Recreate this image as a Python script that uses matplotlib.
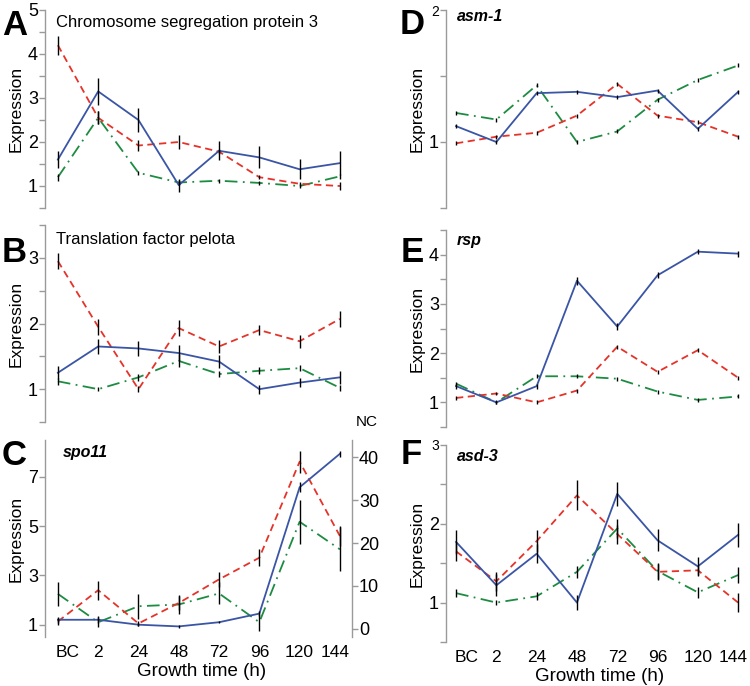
import matplotlib
matplotlib.use("Agg")
import matplotlib.pyplot as plt
from matplotlib.ticker import MultipleLocator
import numpy as np

plt.rcParams['font.family'] = ['Liberation Sans', 'DejaVu Sans']

time_labels = ["BC", "2", "24", "48", "72", "96", "120", "144"]

# Panel A: Chromosome segregation protein 3
a_blue = [1.6, 3.15, 2.5, 1.02, 1.8, 1.65, 1.38, 1.52]
a_red = [4.2, 2.55, 1.92, 2.0, 1.78, 1.2, 1.05, 1.0]
a_green = [1.2, 2.55, 1.3, 1.08, 1.12, 1.07, 1.0, 1.22]
a_blue_err = [0.2, 0.3, 0.28, 0.15, 0.22, 0.25, 0.23, 0.27]
a_red_err = [0.22, 0.15, 0.13, 0.15, 0.05, 0.05, 0.05, 0.1]
a_green_err = [0.08, 0.15, 0.05, 0.05, 0.05, 0.05, 0.05, 0.05]

# Panel B: Translation factor pelota
b_blue = [1.25, 1.65, 1.62, 1.55, 1.42, 1.0, 1.1, 1.18]
b_red = [2.95, 1.95, 1.0, 1.93, 1.65, 1.9, 1.73, 2.07]
b_green = [1.12, 1.0, 1.18, 1.43, 1.23, 1.28, 1.32, 1.02]
b_blue_err = [0.1, 0.12, 0.11, 0.12, 0.1, 0.07, 0.07, 0.1]
b_red_err = [0.12, 0.12, 0.05, 0.12, 0.1, 0.07, 0.1, 0.12]
b_green_err = [0.05, 0.03, 0.05, 0.1, 0.05, 0.05, 0.05, 0.05]

# Panel C: spo11
c_blue = [1.2, 1.2, 1.0, 0.93, 1.1, 1.45, 6.58, 7.94]
c_red = [1.13, 2.4, 1.05, 1.88, 2.84, 3.72, 7.62, 4.6]
c_green = [2.25, 1.1, 1.75, 1.82, 2.27, 1.1, 5.18, 4.06]
c_blue_err = [0.12, 0.15, 0.05, 0.05, 0.05, 0.1, 0.2, 0.12]
c_red_err = [0.15, 0.38, 0.1, 0.3, 0.3, 0.35, 0.45, 0.4]
c_green_err = [0.5, 0.2, 0.5, 0.4, 0.45, 0.35, 0.9, 0.9]
c_nc_ticks = [0, 10, 20, 30, 40]

# Panel D: asm-1
d_blue = [1.12, 1.0, 1.37, 1.38, 1.34, 1.39, 1.10, 1.38]
d_red = [0.99, 1.04, 1.07, 1.20, 1.44, 1.20, 1.15, 1.04]
d_green = [1.22, 1.17, 1.43, 1.0, 1.08, 1.32, 1.47, 1.58]
d_blue_err = [0.015] * 8
d_red_err = [0.015] * 8
d_green_err = [0.015] * 8

# Panel E: rsp
e_blue = [1.33, 1.0, 1.33, 3.47, 2.54, 3.58, 4.06, 4.02]
e_red = [1.09, 1.18, 1.0, 1.24, 2.13, 1.62, 2.06, 1.5]
e_green = [1.38, 1.0, 1.53, 1.53, 1.48, 1.22, 1.05, 1.12]
e_blue_err = [0.05, 0.03, 0.05, 0.08, 0.07, 0.06, 0.05, 0.06]
e_red_err = [0.04] * 8
e_green_err = [0.04] * 8

# Panel F: asd-3
f_blue = [1.77, 1.22, 1.62, 1.0, 2.38, 1.79, 1.46, 1.86]
f_red = [1.65, 1.27, 1.78, 2.36, 1.87, 1.39, 1.41, 1.0]
f_green = [1.12, 1.0, 1.08, 1.39, 1.94, 1.40, 1.13, 1.35]
f_blue_err = [0.15, 0.14, 0.12, 0.1, 0.15, 0.14, 0.12, 0.15]
f_red_err = [0.12, 0.12, 0.14, 0.19, 0.12, 0.1, 0.06, 0.12]
f_green_err = [0.05, 0.03, 0.05, 0.08, 0.12, 0.1, 0.07, 0.1]

BLUE = "#3a55a5"
RED = "#e5332a"
GREEN = "#1d8c42"
SPINE = "#9a9a9a"

W, H = 750, 686
fig = plt.figure(figsize=(W / 100, H / 100), dpi=100)

# label positions along the category axis (labels are spread slightly inward)
LABEL_POS = [0.25, 1, 2, 3, 4, 5, 6, 6.88]


def make_ax(l, t, r, b):
    return fig.add_axes([l / W, 1 - b / H, (r - l) / W, (b - t) / H])


def style(ax, ylim, major, minor, xlim, show_x):
    ax.set_ylim(*ylim)
    ax.set_xlim(*xlim)
    for s in ["top", "right", "bottom"]:
        ax.spines[s].set_visible(False)
    ax.spines["left"].set_color(SPINE)
    ax.spines["left"].set_linewidth(1.0)
    ax.set_yticks(major)
    if minor:
        ax.yaxis.set_minor_locator(MultipleLocator(minor))
    ax.tick_params(axis="y", which="both", direction="out", length=4,
                   color=SPINE, width=1.0, labelsize=13, pad=1)
    ax.set_xticks(LABEL_POS)
    if show_x:
        ax.set_xticklabels(time_labels, fontsize=12.5)
        ax.tick_params(axis="x", length=0, pad=6)
        ax.set_xlabel("Growth time (h)", fontsize=13.5, labelpad=1)
        ax.xaxis.set_label_coords((LABEL_POS[0] + LABEL_POS[-1]) / 2, -0.13,
                                  transform=ax.get_xaxis_transform())
    else:
        ax.set_xticklabels([])
        ax.tick_params(axis="x", length=0)
    ax.set_ylabel("Expression", fontsize=12.5, labelpad=3)
    ax.patch.set_alpha(0)


def draw(ax, blue, red, green, be, re, ge):
    x = np.arange(len(time_labels))
    lw = 1.3
    ax.plot(x, green, color=GREEN, lw=lw, linestyle=(0, (7, 3, 1, 3)), zorder=2)
    ax.plot(x, red, color=RED, lw=lw, linestyle=(0, (4, 2.5)), zorder=3)
    ax.plot(x, blue, color=BLUE, lw=lw, linestyle="-", zorder=4)
    for vals, errs in ((blue, be), (red, re), (green, ge)):
        v = np.array(vals)
        e = np.array(errs)
        ax.vlines(x, v - e, v + e, color="black", lw=1.0, zorder=5)


LX = (-0.32, 7.3)
RX = (-0.25, 7.17)

# A
axA = make_ax(45, 10, 352, 208)
draw(axA, a_blue, a_red, a_green, a_blue_err, a_red_err, a_green_err)
style(axA, (0.5, 5), [1, 2, 3, 4, 5], 0.5, LX, False)

# B
axB = make_ax(45, 225, 352, 422)
draw(axB, b_blue, b_red, b_green, b_blue_err, b_red_err, b_green_err)
style(axB, (0.5, 3.5), [1, 2, 3], 0.5, LX, False)

# C
axC = make_ax(45, 440, 352, 637)
draw(axC, c_blue, c_red, c_green, c_blue_err, c_red_err, c_green_err)
style(axC, (0.5, 8.5), [1, 3, 5, 7], None, LX, True)
axC2 = axC.twinx()
axC2.set_ylim(-1.9, 44)
axC2.set_yticks(c_nc_ticks)
for s in ["top", "left", "bottom"]:
    axC2.spines[s].set_visible(False)
axC2.spines["right"].set_color(SPINE)
axC2.spines["right"].set_linewidth(1.0)
axC2.tick_params(axis="y", direction="out", length=4, color=SPINE, width=1.0,
                 labelsize=13, pad=1)
axC2.set_xlim(*LX)

# D
axD = make_ax(446, 10, 745, 208)
draw(axD, d_blue, d_red, d_green, d_blue_err, d_red_err, d_green_err)
style(axD, (0.5, 2), [1, 2], 0.5, RX, False)

# E
axE = make_ax(446, 230, 745, 427)
draw(axE, e_blue, e_red, e_green, e_blue_err, e_red_err, e_green_err)
style(axE, (0.5, 4.5), [1, 2, 3, 4], 0.5, RX, False)

# F
axF = make_ax(446, 445, 745, 642)
draw(axF, f_blue, f_red, f_green, f_blue_err, f_red_err, f_green_err)
style(axF, (0.5, 3), [1, 2, 3], 0.5, RX, True)

# smaller top labels in D and F
for ax in (axD, axF):
    labs = ax.get_yticklabels()
    labs[-1].set_fontsize(10)


def ftext(x, y, s, **kw):
    fig.text(x / W, 1 - y / H, s, **kw)


ftext(56, 27, "Chromosome segregation protein 3", fontsize=12, va="baseline")
ftext(56, 244, "Translation factor pelota", fontsize=12, va="baseline")
ftext(63, 457, "spo11", fontsize=11.5, weight="bold", style="italic", va="baseline")
ftext(457, 21, "asm-1", fontsize=11.5, weight="bold", style="italic", va="baseline")
ftext(457, 245, "rsp", fontsize=11.5, weight="bold", style="italic", va="baseline")
ftext(457, 461, "asd-3", fontsize=11.5, weight="bold", style="italic", va="baseline")
ftext(356, 426, "NC", fontsize=11, va="baseline")

# Panel letters
for letter, x, y in (("A", 2, 35), ("B", 2, 262), ("C", 2, 465),
                     ("D", 400, 34), ("E", 401, 262), ("F", 401, 464)):
    ftext(x, y, letter, fontsize=25, weight="bold", va="baseline")

fig.savefig("out.png", dpi=100)
